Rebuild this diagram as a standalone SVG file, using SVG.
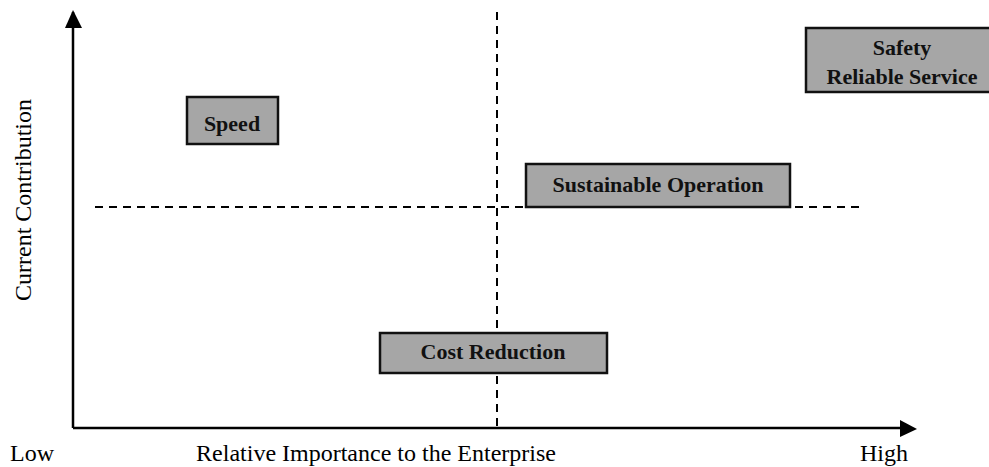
<svg xmlns="http://www.w3.org/2000/svg" width="989" height="467" viewBox="0 0 989 467">
<style>
.axis{stroke:#000;stroke-width:2.5;fill:none}
.dash{stroke:#000;stroke-width:2;stroke-dasharray:8 6;fill:none}
.box{fill:#a6a6a6;stroke:#111;stroke-width:2.5}
.lbl{font-family:"Liberation Serif","Times New Roman",serif;font-size:24px;fill:#000}
.bt{font-family:"Liberation Serif","Times New Roman",serif;font-weight:bold;font-size:22px;fill:#111;text-anchor:middle}
</style>
<defs>
<marker id="ah" markerWidth="10" markerHeight="10" refX="9" refY="5" orient="auto" markerUnits="userSpaceOnUse" viewBox="0 0 10 10">
<path d="M0,0 L10,5 L0,10 Z" fill="#000"/>
</marker>
</defs>
<g id="connectors">
<path class="dash" d="M497,12 V428"/>
<path class="dash" d="M95,207 H860"/>
<path class="axis" d="M73,428 V12"/>
<path d="M65,28 L73,10 L82,28 Z" fill="#000"/>
<path class="axis" d="M73,428 H902"/>
<path d="M900,420 L917,429 L900,437 Z" fill="#000"/>
</g>
<g id="speed">
<rect class="box" x="187" y="97" width="91" height="47"/>
<text class="bt" x="232" y="131">Speed</text>
</g>
<g id="safety">
<rect class="box" x="806" y="28" width="190" height="64"/>
<text class="bt" x="902" y="55">Safety</text>
<text class="bt" x="902" y="84">Reliable Service</text>
</g>
<g id="sustainable">
<rect class="box" x="526" y="164" width="264" height="43"/>
<text class="bt" x="658" y="192">Sustainable Operation</text>
</g>
<g id="cost">
<rect class="box" x="380" y="333" width="227" height="40"/>
<text class="bt" x="493" y="359">Cost Reduction</text>
</g>
<g id="labels">
<text class="lbl" transform="translate(31,200) rotate(-90)" text-anchor="middle">Current Contribution</text>
<text class="lbl" x="10" y="461">Low</text>
<text class="lbl" x="376" y="461" text-anchor="middle">Relative Importance to the Enterprise</text>
<text class="lbl" x="860" y="461">High</text>
</g>
</svg>
